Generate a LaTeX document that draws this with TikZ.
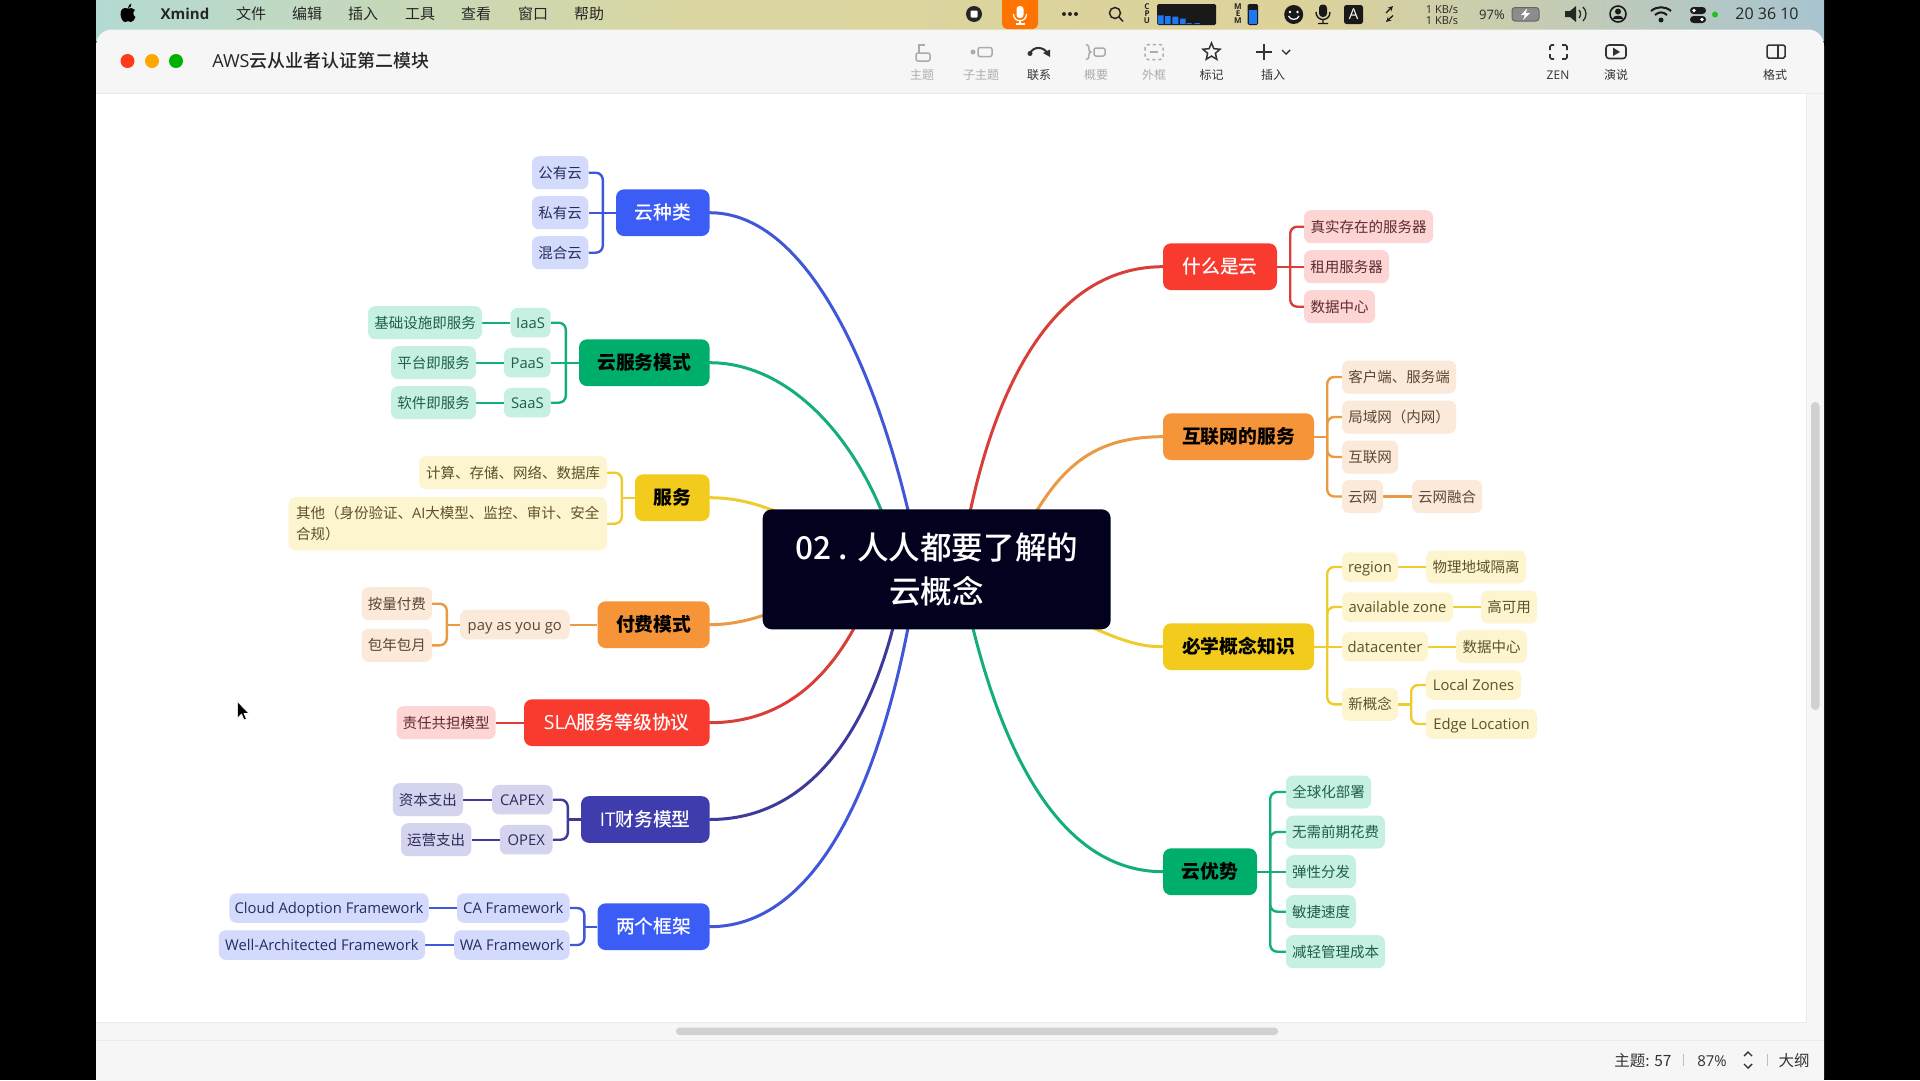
\documentclass[tikz,border=0pt]{standalone}
\usepackage{fontspec}
\setmainfont{Noto Sans CJK SC}
\newfontfamily\medf{Noto Sans CJK SC Medium}
\newfontfamily\lat{Open Sans}
\newcommand\latl{\lat\fontsize{14.8}{21}\selectfont}
\usetikzlibrary{calc,shapes.geometric}
\pgfdeclarelayer{chrome}
\pgfdeclarelayer{conn}
\pgfsetlayers{chrome,conn,main}
\definecolor{redF}{HTML}{F93A2F}\definecolor{redL}{HTML}{D93F39}\definecolor{redB}{HTML}{FCD5D4}\definecolor{redT}{HTML}{5E2A2C}
\definecolor{oraF}{HTML}{F59439}\definecolor{oraL}{HTML}{EA9A43}\definecolor{oraB}{HTML}{FBE9DA}\definecolor{oraT}{HTML}{5E4630}
\definecolor{yelF}{HTML}{F2CB1C}\definecolor{yelL}{HTML}{EFCC2E}\definecolor{yelB}{HTML}{FDF5CF}\definecolor{yelT}{HTML}{5C5228}
\definecolor{greF}{HTML}{00AE6B}\definecolor{greL}{HTML}{14AE7A}\definecolor{greB}{HTML}{C5F0E2}\definecolor{greT}{HTML}{1F5F4C}
\definecolor{bluF}{HTML}{3C5CF6}\definecolor{bluL}{HTML}{3F57D8}\definecolor{bluB}{HTML}{D3DAFB}\definecolor{bluT}{HTML}{252C60}
\definecolor{indF}{HTML}{3F3DAD}\definecolor{indL}{HTML}{3E3A9C}\definecolor{indB}{HTML}{D5D4EE}\definecolor{indT}{HTML}{2C2B5C}
\definecolor{rootF}{HTML}{02021F}
\definecolor{barG}{HTML}{F6F6F6}\definecolor{lineG}{HTML}{EBEBEB}\definecolor{iconG}{HTML}{ABABAB}\definecolor{iconD}{HTML}{333333}
\definecolor{blueBar}{HTML}{1E78F0}
\tikzset{
  x=1pt,y=-1pt,
  topic/.style={rectangle,rounded corners=8pt,inner sep=0pt,font=\medf\fontsize{18.8}{22}\selectfont,text height=16.5pt,text depth=2.5pt},
  boldtopic/.style={topic,font=\fontsize{18.8}{22}\selectfont\bfseries,text=black},
  leaf/.style={rectangle,rounded corners=7pt,inner sep=0pt,font=\fontsize{14.5}{21}\selectfont,text height=12.5pt,text depth=1.5pt},
  tred/.style={topic,fill=redF,text=white},
  tblu/.style={topic,fill=bluF,text=white},
  tind/.style={topic,fill=indF,text=white},
  tora/.style={boldtopic,fill=oraF},
  tyel/.style={boldtopic,fill=yelF},
  tgre/.style={boldtopic,fill=greF},
  lred/.style={leaf,fill=redB,text=redT},
  lora/.style={leaf,fill=oraB,text=oraT},
  lyel/.style={leaf,fill=yelB,text=yelT},
  lgre/.style={leaf,fill=greB,text=greT},
  lblu/.style={leaf,fill=bluB,text=bluT},
  lind/.style={leaf,fill=indB,text=indT},
  rootnode/.style={rectangle,rounded corners=9pt,fill=rootF,text=white,inner sep=0pt,align=center,font=\medf\fontsize{31.6}{44}\selectfont},
  mred/.style={draw=redL,line width=3pt,line cap=round},
  mora/.style={draw=oraL,line width=3pt,line cap=round},
  myel/.style={draw=yelL,line width=3pt,line cap=round},
  mgre/.style={draw=greL,line width=3pt,line cap=round},
  mblu/.style={draw=bluL,line width=3pt,line cap=round},
  mind/.style={draw=indL,line width=3pt,line cap=round},
  bred/.style={draw=redL,line width=2.4pt},
  bora/.style={draw=oraL,line width=2.4pt},
  byel/.style={draw=yelL,line width=2.4pt},
  bgre/.style={draw=greL,line width=2.4pt},
  bblu/.style={draw=bluL,line width=2.4pt},
  bind/.style={draw=indL,line width=2.4pt},
  menutxt/.style={inner sep=0pt,font=\fontsize{15}{18}\selectfont,text=black!85},
  tooltxt/.style={inner sep=0pt,font=\fontsize{12}{14}\selectfont,text=iconD},
  tooloff/.style={inner sep=0pt,font=\fontsize{12}{14}\selectfont,text=iconG},
  stat/.style={inner sep=0pt,font=\fontsize{15.5}{18}\selectfont,text=iconD},
  tiny/.style={inner sep=0pt,align=center,font=\lat\fontsize{8}{7}\selectfont\bfseries,text=black!85},
  iconon/.style={draw=iconD,line width=1.5pt},
  iconoff/.style={draw=iconG,line width=1.5pt},
}
% name, style, x1, x2, centre y, height, text
\newcommand\nd[7]{\node[#2,minimum width={(#4-#3)*1pt},minimum height={#6*1pt}] (#1) at ({(#3+#4)/2},#5) {#7};}
% style, parent, leaf : branch to the left / right with a 13px stem
\newcommand\brL[3]{\path (#2.west) ++(-13,0) coordinate (jj); \draw[#1] (#2.west) -- (jj); \draw[#1,rounded corners=7pt] (jj) |- (#3.east);}
\newcommand\brR[3]{\path (#2.east) ++(13,0) coordinate (jj); \draw[#1] (#2.east) -- (jj); \draw[#1,rounded corners=7pt] (jj) |- (#3.west);}
\newcommand\stL[3]{\draw[#1] (#2.west) -- (#3.east);}
\newcommand\stR[3]{\draw[#1] (#2.east) -- (#3.west);}
\newcommand\lbl[5]{\node[#2] (#1) at (#3,#4) {#5};}
\begin{document}
\begin{tikzpicture}
\useasboundingbox (0,0) rectangle (1920,1080);
%% ---------- application chrome ----------
\begin{pgfonlayer}{chrome}
\fill[black] (0,0) rectangle (1920,1080);
\shade[left color={rgb,255:red,179;green,218;blue,210},right color={rgb,255:red,219;green,214;blue,160}] (96,0) rectangle (700,40);
\shade[left color={rgb,255:red,219;green,214;blue,160},right color={rgb,255:red,221;green,210;blue,154}] (700,0) rectangle (1300,40);
\shade[left color={rgb,255:red,221;green,210;blue,154},right color={rgb,255:red,168;green,196;blue,208}] (1300,0) rectangle (1824,40);
\fill[barG,rounded corners=16pt] (96,29.5) rectangle (1824,1095);
\fill[white] (96,93.5) rectangle (1806,1022);
\draw[lineG,line width=1pt] (96,93.5) -- (1824,93.5);
\draw[lineG,line width=1pt] (1806,93.5) -- (1806,1022) -- (96,1022);
\draw[lineG,line width=1pt] (96,1040) -- (1824,1040);
\fill[black!18,rounded corners=3.5pt] (676,1027.5) rectangle (1278,1035);
\fill[black!18,rounded corners=4pt] (1811,402) rectangle (1819.5,710);
% traffic lights
\fill[red!70!orange!90] (127.5,61) circle (7);
\fill[orange!70!yellow] (152,61) circle (7);
\fill[green!70!black] (176,61) circle (7);
\lbl{ttl}{inner sep=0pt,font=\medf\fontsize{18}{20}\selectfont,text=black!85}{321}{61}{{\lat AWS}云从业者认证第二模块}
% menu
\fill[black] (128,8.5) .. controls (123,6.5) and (120.5,10) .. (120.5,14) .. controls (120.5,18) and (123,22) .. (125,22) .. controls (126.5,22) and (127,21.2) .. (128,21.2) .. controls (129,21.2) and (130,22) .. (131,22) .. controls (133,22) and (135,19) .. (135.5,17) .. controls (133,16) and (132.5,11.5) .. (135,10) .. controls (133.5,8) and (130,7.5) .. (128,8.5) -- cycle;
\fill[black] (128,8) .. controls (128,5.5) and (130,4) .. (131.5,3.5) .. controls (132,6) and (130,8) .. (128,8) -- cycle;
\lbl{m0}{menutxt,font=\lat\fontsize{15}{18}\selectfont\bfseries}{185}{14}{Xmind}
\lbl{m1}{menutxt}{251}{14}{文件}
\lbl{m2}{menutxt}{307}{14}{编辑}
\lbl{m3}{menutxt}{363}{14}{插入}
\lbl{m4}{menutxt}{420}{14}{工具}
\lbl{m5}{menutxt}{476}{14}{查看}
\lbl{m6}{menutxt}{533}{14}{窗口}
\lbl{m7}{menutxt}{589}{14}{帮助}
% menu bar status items
\fill[black!85] (974,14) circle (8);
\fill[white,rounded corners=1pt] (970.5,10.5) rectangle (977.5,17.5);
\fill[orange!90!red,rounded corners=5pt] (1002,-6) rectangle (1038,29);
\fill[white,rounded corners=3pt] (1016.5,6) rectangle (1023.5,18);
\draw[white,line width=1.3pt] (1013.5,14) .. controls (1013.5,23) and (1026.5,23) .. (1026.5,14);
\draw[white,line width=1.3pt] (1020,21) -- (1020,24) (1015.5,24) -- (1024.5,24);
\fill[black!85] (1064,14) circle (2) (1070,14) circle (2) (1076,14) circle (2);
\draw[black!85,line width=1.5pt] (1115,13) circle (5.5) (1119,17) -- (1123,21.5);
\lbl{cpu}{tiny}{1147}{14}{C\\P\\U}
\fill[black!90,rounded corners=1.5pt] (1157,4) rectangle (1216,25);
\fill[blueBar] (1157.7,15.3) rectangle (1163.5,24) (1165,16) rectangle (1170.7,24) (1172.3,16.7) rectangle (1178.3,24) (1180,18.7) rectangle (1185.7,24) (1186.7,23) rectangle (1191.7,24) (1194.3,23) rectangle (1200,24);
\lbl{mem}{tiny}{1238}{14}{M\\E\\M}
\fill[black!90,rounded corners=1.5pt] (1247.5,4) rectangle (1258,25);
\fill[blueBar] (1248.5,10) rectangle (1257,24);
\fill[black!90] (1293.7,14.5) circle (9.5);
\fill[white] (1290,12) circle (1.3) (1297.5,12) circle (1.3);
\draw[white,line width=1.2pt] (1288.5,16) .. controls (1290,20.5) and (1297.5,20.5) .. (1299,16);
\fill[black!90,rounded corners=3.5pt] (1319,4.5) rectangle (1327,17);
\draw[black!90,line width=1.4pt] (1316,12) .. controls (1316,22) and (1330,22) .. (1330,12) (1323,19) -- (1323,23.5) (1318,23.5) -- (1328,23.5);
\fill[black!90,rounded corners=2.5pt] (1344,5) rectangle (1363,24);
\lbl{aicon}{inner sep=0pt,text=white,font=\lat\fontsize{15}{15}\selectfont}{1353.5}{14.5}{A}
\draw[black!90,line width=1.3pt,-stealth] (1386,13) -- (1393,6);
\draw[black!90,line width=1.3pt,-stealth] (1393,15.5) -- (1386,22);
\lbl{kb1}{inner sep=0pt,font=\lat\fontsize{11}{12}\selectfont,text=black!85}{1442}{9.5}{1 KB/s}
\lbl{kb2}{inner sep=0pt,font=\lat\fontsize{11}{12}\selectfont,text=black!85}{1442}{20.5}{1 KB/s}
\lbl{bat}{inner sep=0pt,font=\lat\fontsize{13}{15}\selectfont,text=black!85}{1492}{14.5}{97\%}
\draw[black!60,fill=black!45,rounded corners=3pt,line width=1pt] (1512,7.5) rectangle (1539,21);
\fill[white] (1527,8.5) -- (1521,15) -- (1525,15) -- (1523,20) -- (1530,13) -- (1526,13) -- cycle;
\fill[black!85] (1565,11) -- (1570,11) -- (1576,6) -- (1576,22) -- (1570,17) -- (1565,17) -- cycle;
\draw[black!85,line width=1.3pt] (1579,10) .. controls (1581,12) and (1581,16) .. (1579,18) (1583,7) .. controls (1587,11) and (1587,17) .. (1583,21);
\draw[black!90,line width=1.6pt] (1618,14) circle (8);
\fill[black!90] (1618,11.5) circle (3) (1612.5,19) .. controls (1613,14.5) and (1623,14.5) .. (1623.5,19) -- cycle;
\draw[black!90,line width=2pt] (1651,11) .. controls (1657,6) and (1665,6) .. (1671,11) (1655,15) .. controls (1659,11.5) and (1663,11.5) .. (1667,15);
\fill[black!90] (1661,20) circle (2.5);
\fill[black!90,rounded corners=3.5pt] (1690,7) rectangle (1706,14) (1690,16) rectangle (1706,23);
\fill[white] (1694,10.5) circle (1.8) (1702,19.5) circle (1.8);
\fill[green!70!black!85] (1715,14.5) circle (3);
\lbl{clk}{inner sep=0pt,font=\lat\fontsize{16}{18}\selectfont,text=black!85}{1767}{14}{20 36 10}
% toolbar icons
\draw[iconoff,rounded corners=2pt] (916,53) rectangle (930,61);
\draw[iconoff] (919,53) -- (919,45) -- (925,45);
\lbl{t1}{tooloff}{922}{75}{主题}
\fill[iconG] (973,52) circle (2.5);
\draw[iconoff,rounded corners=2pt] (978,47.5) rectangle (992,56.5);
\lbl{t2}{tooloff}{981}{75}{子主题}
\draw[iconD,line width=2pt] (1030,53.5) .. controls (1033,46) and (1044,46) .. (1048,54);
\fill[iconD] (1030,53.5) circle (2.5);
\fill[iconD] (1050,57) -- (1043,53) -- (1050,49.5) -- cycle;
\lbl{t3}{tooltxt}{1039}{75}{联系}
\draw[iconoff] (1086,44.5) .. controls (1091,44.5) and (1087,52) .. (1091,52) .. controls (1087,52) and (1091,59.5) .. (1086,59.5);
\draw[iconoff,rounded corners=2pt] (1094,48) rectangle (1105,56);
\lbl{t4}{tooloff}{1096}{75}{概要}
\draw[iconoff,dashed,rounded corners=3pt] (1145,44.5) rectangle (1163,59.5);
\draw[iconoff] (1150,52) -- (1158,52);
\lbl{t5}{tooloff}{1154}{75}{外框}
\node[star,star points=5,star point ratio=2.2,draw=iconD,line width=1.5pt,inner sep=0pt,minimum size=18pt] (starI) at (1211.5,52) {};
\lbl{t6}{tooltxt}{1211.5}{75}{标记}
\draw[iconD,line width=1.6pt] (1264,44) -- (1264,60) (1256,52) -- (1272,52);
\draw[iconD,line width=1.4pt] (1282,50) -- (1286,54) -- (1290,50);
\lbl{t7}{tooltxt}{1273}{75}{插入}
\draw[iconD,line width=1.6pt,rounded corners=1.5pt] (1550,50) -- (1550,45) -- (1554,45) (1562,45) -- (1567,45) -- (1567,50) (1567,54) -- (1567,59) -- (1562,59) (1554,59) -- (1550,59) -- (1550,54);
\lbl{t8}{tooltxt,font=\lat\fontsize{12}{14}\selectfont}{1558}{75}{ZEN}
\draw[iconD,line width=1.6pt,rounded corners=3pt] (1606,45) rectangle (1626,58.5);
\fill[iconD] (1613,47.5) -- (1620,52) -- (1613,56) -- cycle;
\lbl{t9}{tooltxt}{1616}{75}{演说}
\draw[iconD,line width=1.5pt,rounded corners=1.5pt] (1767,45) rectangle (1785,58);
\draw[iconD,line width=1.5pt] (1778,45) -- (1778,58);
\lbl{t10}{tooltxt}{1775}{75}{格式}
% status bar
\lbl{s1}{stat}{1643}{1061}{主题: 57}
\draw[black!25,line width=1pt] (1683,1054) -- (1683,1066);
\lbl{s2}{stat,font=\lat\fontsize{15}{18}\selectfont}{1712}{1061}{87\%}
\draw[iconD,line width=1.4pt] (1744,1056) -- (1748,1052) -- (1752,1056) (1744,1064) -- (1748,1068) -- (1752,1064);
\draw[black!25,line width=1pt] (1767,1054) -- (1767,1066);
\lbl{s3}{stat}{1794}{1061}{大纲}
\end{pgfonlayer}
%% ---------- mind map nodes ----------
\node[rootnode,minimum width=348pt,minimum height=120pt] (root) at (936.7,569.3) {02 . 人人都要了解的\\云概念};
% left
\nd{yun}{tblu}{616}{709.6}{212.7}{46.7}{云种类}
\nd{yun1}{lblu}{532}{588.4}{172.7}{33}{公有云}
\nd{yun2}{lblu}{532}{588.4}{212.7}{33}{私有云}
\nd{yun3}{lblu}{532}{588.4}{252.7}{33}{混合云}
\nd{fw}{tgre}{579}{709.6}{362.7}{46.7}{云服务模式}
\nd{iaas}{lgre}{510.5}{550.7}{322.7}{29.5}{\latl IaaS}
\nd{paas}{lgre}{504}{550.7}{362.7}{29.5}{\latl PaaS}
\nd{saas}{lgre}{504}{550.7}{402.7}{29.5}{\latl SaaS}
\nd{iaas2}{lgre}{368}{482}{322.7}{33}{基础设施即服务}
\nd{paas2}{lgre}{391}{476}{362.7}{33}{平台即服务}
\nd{saas2}{lgre}{391}{476}{402.7}{33}{软件即服务}
\nd{sv}{tyel}{635}{709.6}{497.7}{46.7}{服务}
\nd{sv1}{lyel}{419}{607}{472.7}{33}{计算、存储、网络、数据库}
\nd{sv2}{lyel,align=left,text height=,text depth=}{288.7}{607}{523.7}{53.3}{其他（身份验证、{\lat AI}大模型、监控、审计、安全\\合规）}
\nd{pay}{tora}{597.6}{709.6}{624.7}{46.7}{付费模式}
\nd{payg}{lora}{460}{569.6}{624.7}{29.5}{\latl pay as you go}
\nd{pay1}{lora}{361.6}{432}{603.7}{33}{按量付费}
\nd{pay2}{lora}{361.6}{432}{645.3}{33}{包年包月}
\nd{sla}{tred}{524}{709.6}{722.7}{46.7}{{\lat\fontsize{19.5}{22}\selectfont SLA}服务等级协议}
\nd{sla1}{lred}{396.5}{495.7}{722.7}{33}{责任共担模型}
\nd{it}{tind}{581}{709.6}{819.5}{46.7}{{\lat IT}财务模型}
\nd{capex}{lind}{492}{552.6}{799.7}{29.5}{\latl CAPEX}
\nd{opex}{lind}{499.8}{552.6}{839.7}{29.5}{\latl OPEX}
\nd{capex2}{lind}{392.8}{463}{799.7}{33}{资本支出}
\nd{opex2}{lind}{401}{471.3}{839.7}{33}{运营支出}
\nd{fr}{tblu}{597.6}{709.6}{926.7}{46.7}{两个框架}
\nd{ca}{lblu}{457}{569.6}{908}{29.5}{\latl CA Framework}
\nd{wa}{lblu}{454}{569.6}{945}{29.5}{\latl WA Framework}
\nd{ca2}{lblu}{229.4}{428.6}{908}{29.5}{\latl Cloud Adoption Framework}
\nd{wa2}{lblu}{218.8}{425}{945}{29.5}{\latl Well-Architected Framework}
% right
\nd{what}{tred}{1163}{1277}{266.7}{46.7}{什么是云}
\nd{what1}{lred}{1304}{1433}{226.7}{33}{真实存在的服务器}
\nd{what2}{lred}{1304}{1389}{266.7}{33}{租用服务器}
\nd{what3}{lred}{1304}{1375}{306.7}{33}{数据中心}
\nd{net}{tora}{1163}{1314}{436.7}{46.7}{互联网的服务}
\nd{net1}{lora}{1342}{1456}{377}{33}{客户端、服务端}
\nd{net2}{lora}{1342}{1456}{417}{33}{局域网（内网）}
\nd{net3}{lora}{1342}{1398}{457}{33}{互联网}
\nd{net4}{lora}{1342}{1383}{496.5}{33}{云网}
\nd{net5}{lora}{1412}{1482}{496.5}{33}{云网融合}
\nd{must}{tyel}{1163}{1314}{646.7}{46.7}{必学概念知识}
\nd{reg}{lyel}{1342}{1398}{567}{29.5}{\latl region}
\nd{reg2}{lyel}{1426}{1526}{567}{33}{物理地域隔离}
\nd{az}{lyel}{1342}{1453}{607}{29.5}{\latl available zone}
\nd{az2}{lyel}{1481}{1537}{607}{33}{高可用}
\nd{dc}{lyel}{1342}{1428}{646.7}{29.5}{\latl datacenter}
\nd{dc2}{lyel}{1456}{1527}{646.7}{33}{数据中心}
\nd{new}{lyel}{1342}{1398}{704.3}{33}{新概念}
\nd{lz}{lyel}{1426}{1521}{685}{29.5}{\latl Local Zones}
\nd{el}{lyel}{1426}{1537}{724}{29.5}{\latl Edge Location}
\nd{adv}{tgre}{1163}{1257}{871.7}{46.7}{云优势}
\nd{adv1}{lgre}{1286}{1371}{792}{33}{全球化部署}
\nd{adv2}{lgre}{1286}{1385}{832}{33}{无需前期花费}
\nd{adv3}{lgre}{1286}{1356}{871.7}{33}{弹性分发}
\nd{adv4}{lgre}{1286}{1356}{911.7}{33}{敏捷速度}
\nd{adv5}{lgre}{1286}{1385}{951.7}{33}{减轻管理成本}
%% ---------- connectors ----------
\begin{pgfonlayer}{conn}
\coordinate (e1) at (920,569);
\coordinate (e2) at (900,569);
\coordinate (e3) at (815,535);
\coordinate (e4) at (800,600);
\coordinate (e5) at (880,569);
\coordinate (e6) at (905,569);
\coordinate (e7) at (918,569);
\coordinate (e8) at (960,569);
\coordinate (e9) at (1010,560);
\coordinate (e10) at (1060,612);
\draw[mblu] (yun.east) .. controls (830,212.7) and (900,450) .. (e1);
\draw[mgre] (fw.east) .. controls (800,362.7) and (875,460) .. (e2);
\draw[myel] (sv.east) .. controls (755,497.7) and (795,518) .. (e3);
\draw[mora] (pay.east) .. controls (740,624.7) and (770,615) .. (e4);
\draw[mred] (sla.east) .. controls (800,722.7) and (850,655) .. (e5);
\draw[mind] (it.east) .. controls (825,819.5) and (885,700) .. (e6);
\draw[mblu] (fr.east) .. controls (825,926.7) and (890,760) .. (e7);
\draw[mred] (what.west) .. controls (1035,266.7) and (980,430) .. (e8);
\draw[mora] (net.west) .. controls (1080,436.7) and (1050,480) .. (e9);
\draw[myel] (must.west) .. controls (1140,646.7) and (1120,642) .. (e10);
\draw[mgre] (adv.west) .. controls (1040,871.7) and (985,700) .. (e8);
\brL{bblu}{yun}{yun1}\stL{bblu}{yun}{yun2}\brL{bblu}{yun}{yun3}
\brL{bgre}{fw}{iaas}\stL{bgre}{fw}{paas}\brL{bgre}{fw}{saas}
\stL{bgre}{iaas}{iaas2}\stL{bgre}{paas}{paas2}\stL{bgre}{saas}{saas2}
\brL{byel}{sv}{sv1}\brL{byel}{sv}{sv2}
\stL{bora}{pay}{payg}\brL{bora}{payg}{pay1}\brL{bora}{payg}{pay2}
\stL{bred}{sla}{sla1}
\brL{bind}{it}{capex}\brL{bind}{it}{opex}\stL{bind}{capex}{capex2}\stL{bind}{opex}{opex2}
\brL{bblu}{fr}{ca}\brL{bblu}{fr}{wa}\stL{bblu}{ca}{ca2}\stL{bblu}{wa}{wa2}
\brR{bred}{what}{what1}\stR{bred}{what}{what2}\brR{bred}{what}{what3}
\brR{bora}{net}{net1}\brR{bora}{net}{net2}\brR{bora}{net}{net3}\brR{bora}{net}{net4}\stR{bora}{net4}{net5}
\brR{byel}{must}{reg}\brR{byel}{must}{az}\stR{byel}{must}{dc}\brR{byel}{must}{new}
\stR{byel}{reg}{reg2}\stR{byel}{az}{az2}\stR{byel}{dc}{dc2}\brR{byel}{new}{lz}\brR{byel}{new}{el}
\brR{bgre}{adv}{adv1}\brR{bgre}{adv}{adv2}\stR{bgre}{adv}{adv3}\brR{bgre}{adv}{adv4}\brR{bgre}{adv}{adv5}
\end{pgfonlayer}
% mouse pointer
\draw[white,fill=black,line width=.7pt,line join=round] (237.6,701.7) -- (237.6,718) -- (241.5,714) -- (244,720) -- (246.5,719) -- (244,713.5) -- (249,713.5) -- cycle;
\end{tikzpicture}
\end{document}
